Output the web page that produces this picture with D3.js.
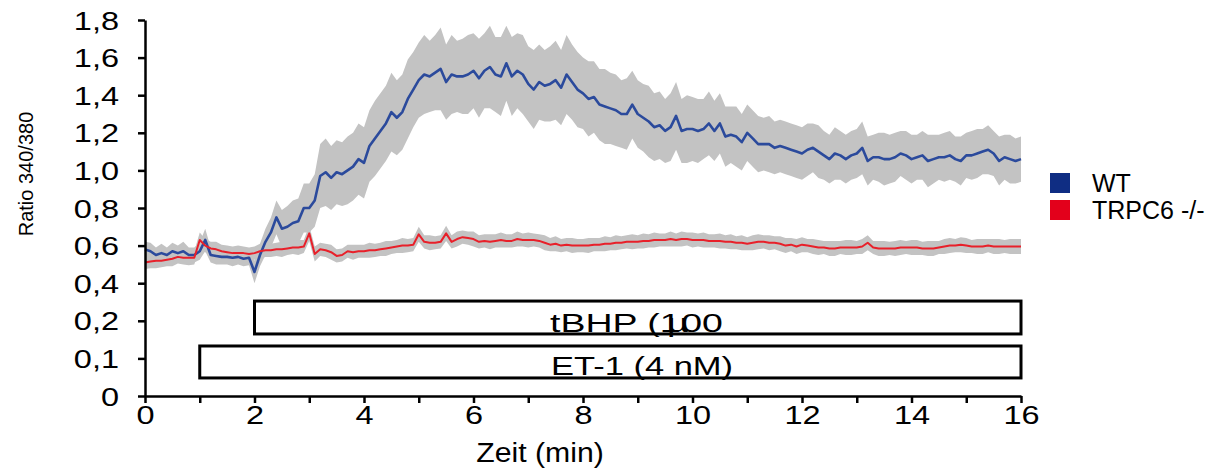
<!DOCTYPE html>
<html><head><meta charset="utf-8">
<script src="https://cdn.jsdelivr.net/npm/d3@7"></script>
<style>
html,body{margin:0;padding:0;background:#fff;}
text{font-family:"Liberation Sans",Arial,sans-serif;fill:#000;}
</style></head>
<body><svg id="chart" width="1220" height="468"></svg>
<script>
// ---- data (sampled every 0.1 min, 0..16 min) ----
const sampleStep = 0.1;
const wtMean = [
0.58,0.57,0.55,0.56,0.55,0.57,0.56,0.57,0.55,0.55,
0.57,0.63,0.55,0.545,0.54,0.54,0.535,0.54,0.53,0.535,
0.46,0.55,0.62,0.67,0.75,0.69,0.70,0.72,0.73,0.80,
0.80,0.84,0.97,0.99,0.96,0.99,0.98,1.00,1.02,1.06,
1.04,1.13,1.17,1.21,1.25,1.31,1.28,1.31,1.38,1.43,
1.48,1.51,1.50,1.52,1.54,1.47,1.51,1.50,1.50,1.51,
1.53,1.49,1.53,1.55,1.51,1.50,1.57,1.50,1.53,1.51,
1.46,1.43,1.47,1.45,1.46,1.48,1.44,1.51,1.47,1.43,
1.41,1.38,1.39,1.35,1.34,1.33,1.32,1.30,1.30,1.35,
1.30,1.28,1.26,1.23,1.24,1.21,1.23,1.29,1.21,1.22,
1.22,1.21,1.22,1.25,1.21,1.25,1.18,1.19,1.18,1.15,
1.20,1.17,1.14,1.14,1.14,1.12,1.13,1.12,1.11,1.10,
1.09,1.11,1.12,1.10,1.08,1.06,1.09,1.08,1.06,1.08,
1.09,1.12,1.05,1.07,1.07,1.06,1.06,1.07,1.09,1.08,
1.06,1.07,1.08,1.05,1.06,1.07,1.07,1.08,1.06,1.05,
1.08,1.08,1.09,1.10,1.11,1.09,1.05,1.07,1.06,1.05,
1.06];
const wtErr = [
0.04,0.045,0.04,0.05,0.04,0.045,0.04,0.05,0.04,0.04,
0.045,0.06,0.04,0.045,0.04,0.04,0.045,0.04,0.04,0.04,
0.06,0.06,0.07,0.08,0.09,0.10,0.11,0.12,0.12,0.13,
0.13,0.14,0.17,0.18,0.17,0.17,0.17,0.18,0.18,0.19,
0.19,0.19,0.20,0.20,0.20,0.21,0.20,0.20,0.21,0.20,
0.20,0.21,0.19,0.20,0.22,0.20,0.21,0.19,0.20,0.21,
0.20,0.21,0.20,0.22,0.20,0.21,0.20,0.21,0.20,0.21,
0.20,0.21,0.20,0.19,0.20,0.21,0.20,0.21,0.20,0.20,
0.19,0.20,0.19,0.19,0.20,0.19,0.19,0.18,0.19,0.18,
0.18,0.18,0.19,0.18,0.18,0.17,0.18,0.18,0.17,0.18,
0.17,0.17,0.16,0.17,0.16,0.16,0.16,0.15,0.16,0.15,
0.15,0.15,0.15,0.14,0.15,0.14,0.14,0.14,0.14,0.14,
0.14,0.14,0.13,0.14,0.13,0.13,0.14,0.13,0.13,0.13,
0.13,0.14,0.13,0.12,0.13,0.14,0.13,0.13,0.12,0.13,
0.13,0.12,0.13,0.14,0.13,0.12,0.13,0.13,0.12,0.13,
0.12,0.13,0.13,0.12,0.13,0.12,0.13,0.12,0.13,0.12,
0.12];
const koMean = [
0.51,0.515,0.52,0.52,0.525,0.53,0.54,0.535,0.535,0.535,
0.63,0.60,0.585,0.58,0.57,0.565,0.56,0.56,0.56,0.555,
0.56,0.57,0.575,0.575,0.58,0.58,0.585,0.59,0.59,0.595,
0.665,0.555,0.58,0.575,0.565,0.545,0.55,0.57,0.565,0.57,
0.57,0.575,0.575,0.58,0.585,0.59,0.595,0.60,0.60,0.605,
0.66,0.62,0.615,0.615,0.62,0.665,0.62,0.635,0.645,0.64,
0.635,0.62,0.625,0.62,0.625,0.63,0.625,0.625,0.635,0.63,
0.63,0.63,0.625,0.615,0.605,0.61,0.60,0.605,0.60,0.60,
0.60,0.60,0.605,0.605,0.61,0.61,0.615,0.615,0.62,0.62,
0.62,0.625,0.625,0.63,0.63,0.63,0.635,0.63,0.635,0.635,
0.63,0.63,0.63,0.625,0.625,0.625,0.62,0.62,0.615,0.615,
0.61,0.615,0.62,0.62,0.615,0.615,0.61,0.60,0.605,0.595,
0.605,0.60,0.595,0.59,0.59,0.585,0.585,0.59,0.59,0.59,
0.59,0.595,0.615,0.59,0.585,0.585,0.585,0.585,0.59,0.59,
0.59,0.59,0.585,0.585,0.585,0.59,0.595,0.60,0.60,0.605,
0.60,0.595,0.595,0.595,0.60,0.595,0.595,0.595,0.595,0.595,
0.595];
const koErr = [
0.035,0.035,0.04,0.035,0.035,0.04,0.035,0.035,0.04,0.035,
0.04,0.035,0.035,0.04,0.035,0.035,0.035,0.04,0.035,0.035,
0.035,0.04,0.035,0.035,0.035,0.04,0.035,0.035,0.04,0.035,
0.04,0.04,0.035,0.035,0.04,0.035,0.035,0.035,0.04,0.035,
0.035,0.04,0.035,0.035,0.04,0.035,0.035,0.04,0.035,0.035,
0.04,0.035,0.04,0.035,0.035,0.04,0.035,0.04,0.035,0.035,
0.04,0.035,0.035,0.04,0.035,0.04,0.035,0.035,0.04,0.035,
0.04,0.035,0.035,0.04,0.035,0.04,0.035,0.035,0.04,0.035,
0.035,0.04,0.035,0.035,0.04,0.035,0.04,0.035,0.035,0.04,
0.035,0.04,0.035,0.04,0.035,0.035,0.04,0.035,0.04,0.035,
0.04,0.035,0.04,0.035,0.035,0.04,0.035,0.04,0.035,0.04,
0.035,0.04,0.04,0.035,0.04,0.035,0.04,0.04,0.035,0.04,
0.04,0.035,0.04,0.04,0.035,0.04,0.04,0.035,0.04,0.04,
0.035,0.04,0.04,0.035,0.04,0.04,0.035,0.04,0.04,0.035,
0.04,0.04,0.035,0.04,0.04,0.035,0.04,0.04,0.035,0.04,
0.04,0.035,0.04,0.04,0.035,0.04,0.04,0.035,0.04,0.04,
0.04];
const seriesNames = ["WT", "TRPC6 -/-"];
const seriesColors = ["#2b4a9c", "#e8202a"];
const legendColors = ["#0f2d83", "#e3001b"];
const yTicks = [0, 0.1, 0.2, 0.4, 0.6, 0.8, 1.0, 1.2, 1.4, 1.6, 1.8];
const xTicksMajor = [0, 2, 4, 6, 8, 10, 12, 14, 16];
const xTicksMinor = d3.range(0, 17, 1);
const treatments = [
  {label: "tBHP (1µ00", start: 2, end: 16, lo: 0.165, hi: 0.305},
  {label: "ET-1 (4 nM)", start: 1, end: 16, lo: 0.048, hi: 0.133}
];
const xTitle = "Zeit (min)";
const yTitle = "Ratio  340/380";

// ---- layout ----
const svg = d3.select("#chart");
const X0 = 145, X1 = 1021, Y0 = 396, Y1 = 20;
const x = d3.scaleLinear().domain([0, 16]).range([X0, X1]);
// piecewise y axis: 0..0.1..0.2 stretched, then linear by 0.2 steps
const step = (Y0 - Y1) / 10;
const y = d3.scaleLinear().domain([0, 0.1, 0.2, 1.8]).range([Y0, Y0 - step, Y0 - 2 * step, Y1]);

const t = i => i * sampleStep;
function mk(mean, err){ return mean.map((m, i) => ({t: t(i), m, e: err[i]})); }
const wt = mk(wtMean, wtErr), ko = mk(koMean, koErr);

const area = d3.area().x(d => x(d.t)).y0(d => y(d.m - d.e)).y1(d => y(d.m + d.e));
const line = d3.line().x(d => x(d.t)).y(d => y(d.m));

svg.append("path").attr("d", area(wt)).attr("fill", "#c3c3c3");
svg.append("path").attr("d", area(ko)).attr("fill", "#c3c3c3");
svg.append("path").attr("d", line(wt)).attr("fill", "none").attr("stroke", seriesColors[0]).attr("stroke-width", 2.6).attr("stroke-linejoin", "round");
svg.append("path").attr("d", line(ko)).attr("fill", "none").attr("stroke", seriesColors[1]).attr("stroke-width", 2).attr("stroke-linejoin", "round");

// treatment boxes
treatments.forEach(b => {
  svg.append("rect")
    .attr("x", x(b.start)).attr("y", y(b.hi))
    .attr("width", x(b.end) - x(b.start)).attr("height", y(b.lo) - y(b.hi))
    .attr("fill", "none").attr("stroke", "#000").attr("stroke-width", 3);
});
// tBHP label: µ overprinted onto the digits as in the original (per-glyph dx)
svg.append("text").attr("transform", `translate(550,${y(treatments[0].lo) - 2}) scale(1.5,1)`)
  .attr("font-size", 25).attr("dx", "0 0 0 0 0 0 0 -9 -5 0").text(treatments[0].label);
svg.append("text").attr("transform", `translate(551,${y(treatments[1].lo) - 3}) scale(1.38,1)`)
  .attr("font-size", 25).text(treatments[1].label);

// axes
const fmt = d => d === 0 ? "0" : d.toFixed(1).replace(".", ",");
const yAxis = svg.append("g").attr("transform", `translate(${X0},0)`)
  .call(d3.axisLeft(y).tickValues(yTicks).tickFormat(fmt).tickSize(7).tickSizeOuter(0));
yAxis.selectAll("path,line").attr("stroke", "#000").attr("stroke-width", 2.5);
yAxis.selectAll("text").attr("font-size", 25).attr("font-family", "Liberation Sans, Arial, sans-serif")
  .attr("x", null).attr("dy", null)
  .attr("transform", "translate(-26,9) scale(1.3,1)");

const xAxis = svg.append("g").attr("transform", `translate(0,${Y0})`)
  .call(d3.axisBottom(x).tickValues(xTicksMinor).tickFormat(d => xTicksMajor.includes(d) ? d : "").tickSize(7).tickSizeOuter(0));
xAxis.selectAll("path,line").attr("stroke", "#000").attr("stroke-width", 2.5);
xAxis.selectAll("text").attr("font-size", 25).attr("font-family", "Liberation Sans, Arial, sans-serif")
  .attr("y", null).attr("dy", null)
  .attr("transform", "translate(0,28) scale(1.3,1)");

svg.append("text").attr("transform", "translate(540,462) scale(1.12,1)").attr("text-anchor", "middle").attr("font-size", 27).text(xTitle);
svg.append("text").attr("transform", "translate(33,174) rotate(-90)").attr("text-anchor", "middle").attr("font-size", 20).text(yTitle);

// legend
seriesNames.forEach((n, i) => {
  const ly = 173 + i * 27;
  svg.append("rect").attr("x", 1050).attr("y", ly).attr("width", 20).attr("height", 20).attr("fill", legendColors[i]);
  svg.append("text").attr("x", 1092).attr("y", ly + 19).attr("font-size", 25).text(n);
});
</script></body></html>
